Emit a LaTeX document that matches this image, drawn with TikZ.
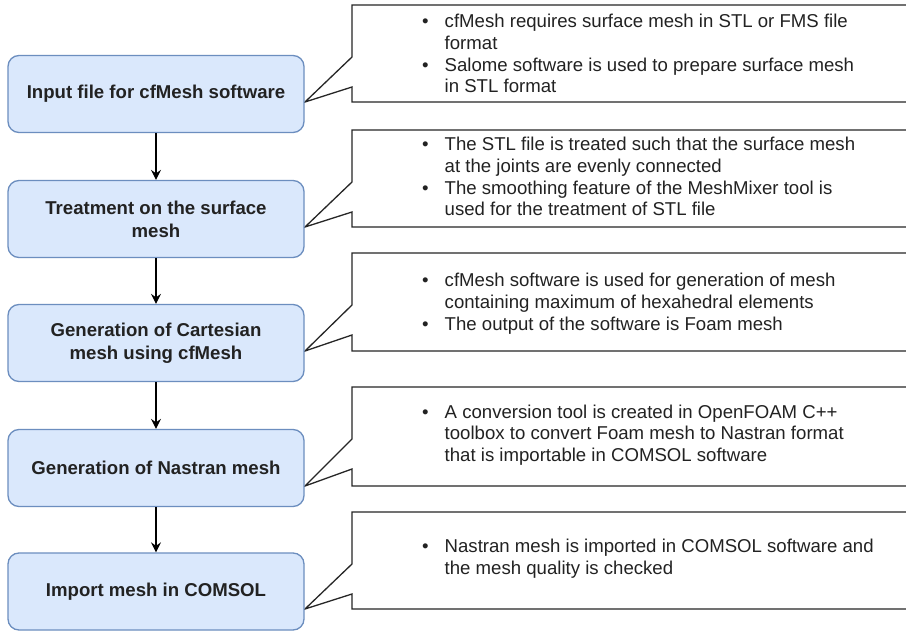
\documentclass[tikz,border=0pt]{standalone}
\usepackage{fontspec}
\setmainfont{Liberation Sans}
\usetikzlibrary{arrows.meta}
\definecolor{boxfill}{HTML}{DAE8FC}
\definecolor{boxdraw}{HTML}{6C8EBF}
\definecolor{txt}{HTML}{222222}
\begin{document}
\begin{tikzpicture}[x=1pt,y=-1pt,
  stepbox/.style={draw=boxdraw, fill=boxfill, line width=1.3pt, rounded corners=11pt,
    minimum width=296pt, minimum height=77pt, inner sep=0pt, align=center,
    text=txt, font=\fontsize{18.6}{23}\selectfont\bfseries},
  calloutline/.style={draw=black!85, fill=white, line width=1.3pt, line join=miter},
  notetext/.style={anchor=west, inner sep=0pt, text=txt, font=\fontsize{18.6}{21.7}\selectfont},
  arr/.style={draw=black, line width=1.2pt, -{Stealth[length=10pt,width=10pt,inset=3.5pt]}}]
\fill[white] (0,0) rectangle (906,631);
\useasboundingbox (0,0) rectangle (906,631);
% callouts
\foreach \T/\B in {5/102,130/227,253/351,387/486,512/609}{
  \draw[calloutline] (915,\T) -- (352,\T) -- (352,{\T+52}) -- (305,\B) -- (352,{\T+82}) -- (352,\B) -- (915,\B) -- cycle;
}
% boxes
\node[stepbox] (b1) at (156,94) {Input file for cfMesh software};
\node[stepbox] (b2) at (156,219) {Treatment on the surface\\mesh};
\node[stepbox] (b3) at (156,343) {Generation of Cartesian\\mesh using cfMesh};
\node[stepbox] (b4) at (156,468) {Generation of Nastran mesh};
\node[stepbox] (b5) at (156,591.5) {Import mesh in COMSOL};
\draw[arr] (b1) -- (b2);
\draw[arr] (b2) -- (b3);
\draw[arr] (b3) -- (b4);
\draw[arr] (b4) -- (b5);
% texts
\node[notetext] (t1) at (422,56) {\begin{tabular}{@{}l@{\hspace{16pt}}l@{}}
\textbullet & cfMesh requires surface mesh in STL or FMS file\\
 & format\\
\textbullet & Salome software is used to prepare surface mesh\\
 & in STL format
\end{tabular}};
\node[notetext] (t2) at (422,179) {\begin{tabular}{@{}l@{\hspace{16pt}}l@{}}
\textbullet & The STL file is treated such that the surface mesh\\
 & at the joints are evenly connected\\
\textbullet & The smoothing feature of the MeshMixer tool is\\
 & used for the treatment of STL file
\end{tabular}};
\node[notetext] (t3) at (422,304) {\begin{tabular}{@{}l@{\hspace{16pt}}l@{}}
\textbullet & cfMesh software is used for generation of mesh\\
 & containing maximum of hexahedral elements\\
\textbullet & The output of the software is Foam mesh
\end{tabular}};
\node[notetext] (t4) at (422,435.5) {\begin{tabular}{@{}l@{\hspace{16pt}}l@{}}
\textbullet & A conversion tool is created in OpenFOAM C++\\
 & toolbox to convert Foam mesh to Nastran format\\
 & that is importable in COMSOL software
\end{tabular}};
\node[notetext] (t5) at (422,559) {\begin{tabular}{@{}l@{\hspace{16pt}}l@{}}
\textbullet & Nastran mesh is imported in COMSOL software and\\
 & the mesh quality is checked
\end{tabular}};
\end{tikzpicture}
\end{document}
